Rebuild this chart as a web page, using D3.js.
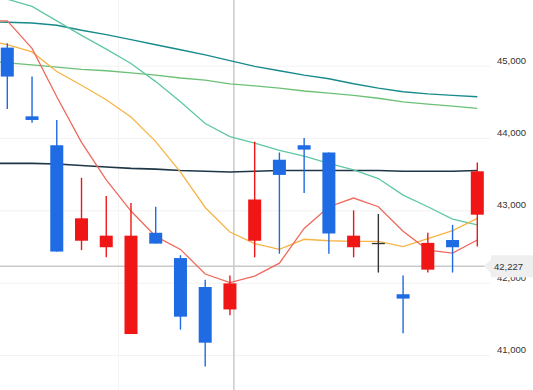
<!DOCTYPE html>
<html>
<head>
<meta charset="utf-8">
<script src="https://cdn.jsdelivr.net/npm/d3@7"></script>
<style>
  body { margin: 0; background: #fff; }
  svg { display: block; font-family: "Liberation Sans", Arial, sans-serif; }
</style>
</head>
<body>
<div id="chart"></div>
<script>
// candles, index 0..19 (red = up, blue = down)
const opens  = [45250, 44300, 43900, 42580, 42490, 41290, 42690, 42340, 41940, 41630,
                42580, 43700, 43900, 43800, 42490, 42550, 41840, 42180, 42590, 42940]
const closes = [44850, 44250, 42430, 42890, 42650, 42650, 42540, 41530, 41170, 41990,
                43150, 43490, 43840, 42680, 42650, 42550, 41780, 42550, 42490, 43540]
const highs  = [45310, 44850, 44250, 43450, 43200, 43100, 43050, 42380, 42040, 42100,
                43950, 43800, 44000, 43800, 43000, 42950, 42100, 42690, 42800, 43660]
const lows   = [44400, 44210, 42430, 42450, 42350, 41290, 42540, 41350, 40840, 41550,
                42350, 42400, 43240, 42400, 42350, 42140, 41300, 42140, 42140, 42500]

// moving averages, index -1..19 (first point is off the left edge)
const ma5   = [45620, 45620, 45240, 44570, 43940, 43420, 42990, 42640, 42460, 42120, 42000,
               42090, 42270, 42750, 43050, 43170, 43050, 42710, 42450, 42410, 42590]
const ma10  = [45360, 45290, 45190, 44920, 44730, 44530, 44290, 43950, 43530, 43040, 42700,
               42540, 42460, 42600, 42580, 42570, 42570, 42500, 42610, 42720, 42890]
const ma20  = [46070, 45920, 45820, 45620, 45420, 45230, 45030, 44780, 44500, 44200, 44020,
               43930, 43830, 43750, 43650, 43560, 43440, 43210, 43050, 42880, 42800]
const ma60  = [45610, 45600, 45590, 45560, 45490, 45430, 45360, 45290, 45220, 45150, 45070,
               44990, 44930, 44870, 44820, 44750, 44690, 44640, 44610, 44590, 44570]
const ma120 = [45070, 45040, 45010, 44980, 44950, 44930, 44900, 44870, 44830, 44800, 44750,
               44720, 44690, 44650, 44620, 44590, 44550, 44500, 44470, 44440, 44410]
const ma240 = [43650, 43650, 43650, 43640, 43620, 43600, 43580, 43570, 43550, 43540, 43530,
               43540, 43550, 43550, 43550, 43550, 43550, 43540, 43540, 43540, 43550]

const yTicks = [41000, 42000, 43000, 44000, 45000]
const dividers = [4.5]
const crossIndex = 9.16
const crossPrice = 42227

const W = 533, H = 390, plotW = 490

const svg = d3.select("#chart").append("svg")
    .attr("width", W).attr("height", H)

const x = d3.scaleLinear().domain([0, 19]).range([7.3, 477.3])
const y = d3.scaleLinear().domain([41000, 45000]).range([355, 65.7])

svg.append("clipPath").attr("id", "plot")
    .append("rect").attr("x", 0).attr("y", 0).attr("width", plotW).attr("height", H)

// grid + right axis
const axis = svg.append("g")
    .attr("transform", `translate(${plotW},0)`)
    .call(d3.axisRight(y).tickValues(yTicks).tickSize(-plotW).tickPadding(7).tickFormat(d3.format(",")))
axis.select(".domain").remove()
axis.selectAll("line").attr("stroke", "#f2f2f2")
axis.selectAll("text")
    .attr("dy", "-0.25em")
    .attr("fill", "#333")
    .style("font-size", "9.5px")
    .style("font-family", "'Liberation Sans', Arial, sans-serif")

const g = svg.append("g").attr("clip-path", "url(#plot)")

g.selectAll(".divider").data(dividers).enter().append("line")
    .attr("x1", d => x(d)).attr("x2", d => x(d))
    .attr("y1", 0).attr("y2", H)
    .attr("stroke", "#f4f4f4")

// crosshair
g.append("line")
    .attr("x1", x(crossIndex)).attr("x2", x(crossIndex))
    .attr("y1", 0).attr("y2", H)
    .attr("stroke", "#cacaca").attr("stroke-width", 1.5)
g.append("line")
    .attr("x1", 0).attr("x2", 486)
    .attr("y1", y(crossPrice)).attr("y2", y(crossPrice))
    .attr("stroke", "#cacaca").attr("stroke-width", 1.5)

// moving averages
const maLines = [
    { vals: ma240, color: "#1f3646", w: 1.6 },
    { vals: ma120, color: "#6cc076", w: 1.3 },
    { vals: ma60,  color: "#178a8c", w: 1.4 },
    { vals: ma20,  color: "#5fc7a2", w: 1.3 },
    { vals: ma10,  color: "#f6b546", w: 1.3 },
    { vals: ma5,   color: "#ee6a5c", w: 1.3 }
]
const line = d3.line().x((d, i) => x(i - 1)).y(d => y(d))
g.selectAll(".ma").data(maLines).enter().append("path")
    .attr("d", d => line(d.vals))
    .attr("fill", "none")
    .attr("stroke", d => d.color)
    .attr("stroke-width", d => d.w)

// candles
const candles = opens.map((o, i) => ({ i, o, c: closes[i], h: highs[i], l: lows[i] }))
function col(d) {
    if (d.c > d.o) return "#f11616"
    if (d.c < d.o) return "#1e6be3"
    return "#333"
}
const bodyW = 13
const cg = g.selectAll(".candle").data(candles).enter().append("g")
cg.append("line")
    .attr("x1", d => x(d.i)).attr("x2", d => x(d.i))
    .attr("y1", d => y(d.h)).attr("y2", d => y(d.l))
    .attr("stroke", col).attr("stroke-width", 1.4)
cg.append("rect")
    .attr("x", d => x(d.i) - bodyW / 2)
    .attr("y", d => y(Math.max(d.o, d.c)))
    .attr("width", bodyW)
    .attr("height", d => Math.max(1.3, Math.abs(y(d.o) - y(d.c))))
    .attr("fill", col)

// price tag
const ty = y(crossPrice)
svg.append("path")
    .attr("d", `M484,${ty} L491,${ty - 7} L491,${ty - 11} L533,${ty - 11} L533,${ty + 11} L491,${ty + 11} L491,${ty + 7} Z`)
    .attr("fill", "#efefef")
svg.append("text")
    .attr("x", 494).attr("y", ty + 3.5)
    .attr("fill", "#333")
    .style("font-size", "9.5px")
    .text(d3.format(",")(crossPrice))
</script>
</body>
</html>
